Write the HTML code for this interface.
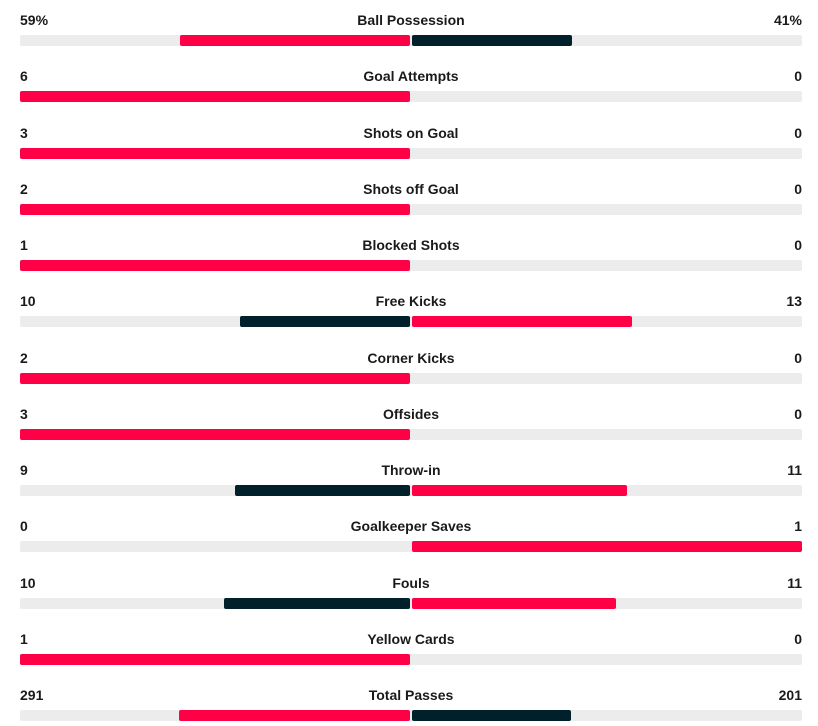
<!DOCTYPE html>
<html><head><meta charset="utf-8">
<style>
body{margin:0;width:818px;height:726px;background:#fff;font-family:"Liberation Sans",sans-serif;overflow:hidden;position:relative}
.t{position:absolute;font-size:14px;font-weight:bold;color:#1a1a1a;line-height:16px}
.bg{position:absolute;left:20px;width:782px;height:11px;background:#ececec;border-radius:2px}
.b{position:absolute;height:11px;border-radius:2px}
</style></head><body>
<div id="chart"></div>
<script>
const categories=["Ball Possession","Goal Attempts","Shots on Goal","Shots off Goal","Blocked Shots","Free Kicks","Corner Kicks","Offsides","Throw-in","Goalkeeper Saves","Fouls","Yellow Cards","Total Passes"];
const homeValues=[59,6,3,2,1,10,2,3,9,0,10,1,291];
const awayValues=[41,0,0,0,0,13,0,0,11,1,11,0,201];
const suffixes=["%","","","","","","","","","","","",""];
const c=document.getElementById('chart');
const RED="#ff0046",DARK="#00202b",HALF=390,CX=411;
function mk(cls,style,txt,name){const d=document.createElement('div');d.className=cls;d.style.cssText=style;if(txt!==undefined)d.textContent=txt;


c.appendChild(d);return d;}
categories.forEach((cat,i)=>{
 const y=35+i*56.25;const ty=y-23;
 const h=homeValues[i],a=awayValues[i],s=h+a||1;
 const slug=cat.toLowerCase().replace(/[^a-z]+/g,'-');
 mk('t',`left:20px;top:${ty}px`,h+suffixes[i],slug+'-home-value');
 mk('t',`left:0;width:822px;text-align:center;top:${ty}px`,cat,slug+'-label');
 mk('t',`right:16px;top:${ty}px`,a+suffixes[i],slug+'-away-value');
 mk('bg',`top:${y}px`,undefined,slug+'-track');
 const hw=h/s*HALF,aw=a/s*HALF;
 const hc=h>=a?RED:DARK,ac=a>h?RED:DARK;
 if(hw>0)mk('b',`top:${y}px;left:${CX-1-hw}px;width:${hw}px;background:${hc}`,undefined,slug+'-home-bar');
 if(aw>0)mk('b',`top:${y}px;left:${CX+1}px;width:${aw}px;background:${ac}`,undefined,slug+'-away-bar');
});
</script>
</body></html>
